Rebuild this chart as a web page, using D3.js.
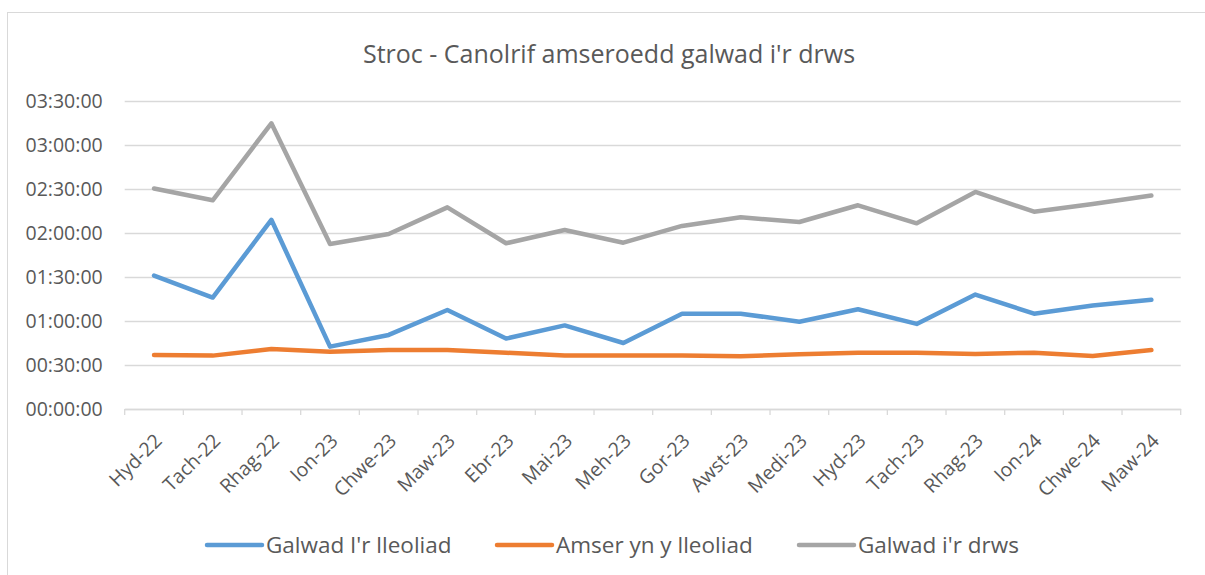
<!DOCTYPE html>
<html>
<head>
<meta charset="utf-8">
<script src="https://cdn.jsdelivr.net/npm/d3@7"></script>
<style>
  body { margin: 0; background: #fff; }
  svg text { font-family: "Open Sans", "Noto Sans", sans-serif; }
</style>
</head>
<body>
<div class="chart"></div>
<script>
// month labels
const months = ['Hyd-22', 'Tach-22', 'Rhag-22', 'Ion-23', 'Chwe-23', 'Maw-23', 'Ebr-23', 'Mai-23', 'Meh-23',
	'Gor-23', 'Awst-23', 'Medi-23', 'Hyd-23', 'Tach-23', 'Rhag-23', 'Ion-24', 'Chwe-24', 'Maw-24'];

// values in minutes
const galwadLleoliad = [91, 76, 129, 42.5, 50.5, 67.5, 48, 57, 45, 65, 65, 59.5, 68, 58, 78, 65, 70.5, 74.5];
const amserLleoliad = [36.8, 36.4, 40.9, 39.1, 40.2, 40.2, 38.4, 36.4, 36.4, 36.4, 35.9, 37.4, 38.4, 38.4, 37.5, 38.4, 36.1, 40.2];
const galwadDrws = [150.3, 142.3, 194.8, 112.5, 119.3, 137.5, 113, 122, 113.4, 124.8, 130.7, 127.5, 138.9, 126.6, 148, 134.5, 139.8, 145.5];

const seriesNames = ["Galwad I'r lleoliad", 'Amser yn y lleoliad', "Galwad i'r drws"];
const seriesColors = ['#5B9BD5', '#ED7D31', '#A5A5A5'];
const yTicks = [0, 30, 60, 90, 120, 150, 180, 210];

document.addEventListener('DOMContentLoaded', function() {
	let w = 1205;
	let h = 575;
	let left = 124.7, right = 1180.7, top = 101, bottom = 409;

	let svg = d3.select('.chart').append('svg').attr('width', w).attr('height', h);

	// chart border
	svg.append('rect')
		.attr('x', 7.5).attr('y', 12.5)
		.attr('width', w).attr('height', h)
		.attr('fill', 'none')
		.attr('stroke', '#D9D9D9');

	// title
	svg.append('text')
		.attr('x', 609)
		.attr('y', 63)
		.attr('text-anchor', 'middle')
		.attr('font-size', '25px')
		.attr('fill', '#595959')
		.text("Stroc - Canolrif amseroedd galwad i'r drws");

	let xScale = d3.scaleBand().domain(months).range([left, right]);
	let yScale = d3.scaleLinear().domain([0, 210]).range([bottom, top]);

	let fmt = function(m) {
		let hh = Math.floor(m / 60);
		let mm = m % 60;
		return String(hh).padStart(2, '0') + ':' + String(mm).padStart(2, '0') + ':00';
	};

	// gridlines + y labels
	let yAxis = svg.append('g')
		.attr('transform', 'translate(' + left + ',0)')
		.call(d3.axisLeft(yScale).tickValues(yTicks).tickFormat(fmt).tickSize(-(right - left)).tickPadding(22));
	yAxis.attr('font-family', null).attr('font-size', null);
	yAxis.select('.domain').remove();
	yAxis.selectAll('.tick line').attr('stroke', '#D9D9D9').attr('stroke-width', 1.3);
	yAxis.selectAll('.tick text').attr('fill', '#595959').attr('font-size', '19.5px');

	// x axis
	let xAxis = svg.append('g')
		.attr('transform', 'translate(0,' + bottom + ')')
		.call(d3.axisBottom(xScale).tickSize(0));
	xAxis.attr('font-family', null).attr('font-size', null);
	xAxis.select('.domain').attr('stroke', '#D9D9D9').attr('stroke-width', 1.3);
	xAxis.selectAll('.tick text')
		.attr('fill', '#595959')
		.attr('font-size', '19.5px')
		.attr('text-anchor', 'end')
		.attr('x', 0).attr('y', 0)
		.attr('dx', 0).attr('dy', 0)
		.attr('transform', 'translate(9,33) rotate(-45)');

	// category boundary ticks
	let bounds = months.map(m => xScale(m)).concat([right]);
	svg.append('g').selectAll('line')
		.data(bounds)
		.enter()
		.append('line')
		.attr('x1', d => d).attr('x2', d => d)
		.attr('y1', bottom).attr('y2', bottom + 6)
		.attr('stroke', '#D9D9D9').attr('stroke-width', 1.3);

	// lines
	let allSeries = [galwadLleoliad, amserLleoliad, galwadDrws];
	let line = d3.line()
		.x((d, i) => xScale(months[i]) + xScale.bandwidth() / 2)
		.y(d => yScale(d));

	svg.append('g').selectAll('path')
		.data(allSeries)
		.enter()
		.append('path')
		.attr('d', d => line(d))
		.attr('fill', 'none')
		.attr('stroke', (d, i) => seriesColors[i])
		.attr('stroke-width', 4.5)
		.attr('stroke-linecap', 'round')
		.attr('stroke-linejoin', 'round');

	// legend
	let legX = [207, 497, 799];
	let leg = svg.append('g').selectAll('g')
		.data(seriesNames)
		.enter()
		.append('g')
		.attr('transform', (d, i) => 'translate(' + legX[i] + ',545)');
	leg.append('line')
		.attr('x1', 0).attr('x2', 55)
		.attr('stroke', (d, i) => seriesColors[i])
		.attr('stroke-width', 4.5)
		.attr('stroke-linecap', 'round');
	leg.append('text')
		.attr('x', 59)
		.attr('y', 8)
		.attr('font-size', '22.5px')
		.attr('fill', '#595959')
		.text(d => d);
});
</script>
</body>
</html>
